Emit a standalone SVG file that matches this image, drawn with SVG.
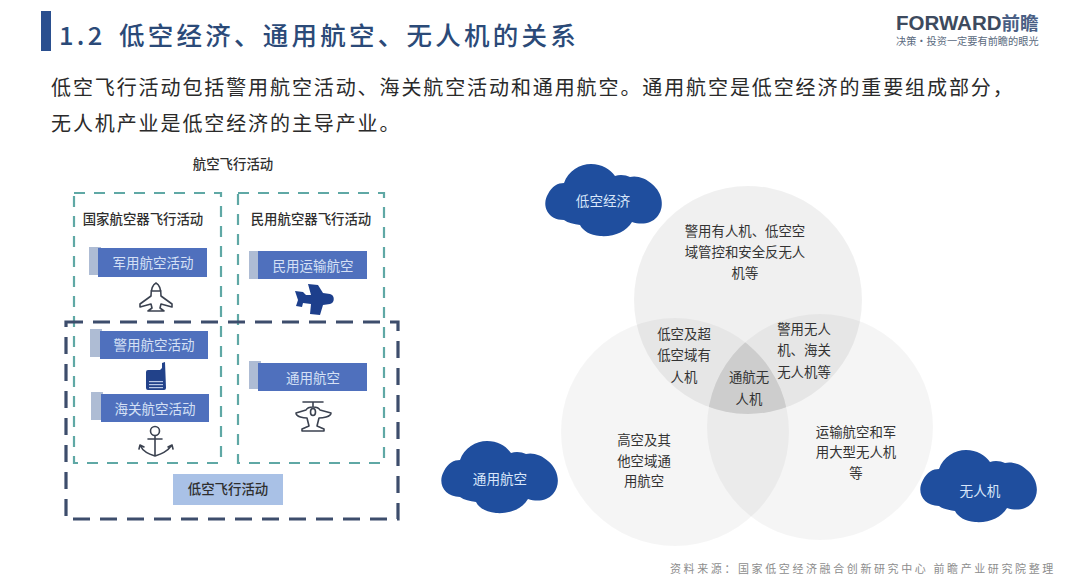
<svg xmlns="http://www.w3.org/2000/svg" width="1080" height="580" viewBox="0 0 1080 580">
<style>
text{font-family:"Noto Sans CJK SC","Noto Sans",sans-serif;text-anchor:middle}
.l{text-anchor:start}
.title{font-size:25.5px;font-weight:500;fill:#2b4a78;letter-spacing:3.25px}
.para{font-size:20px;fill:#2a2a2a;letter-spacing:1.9px}
.cap{font-size:13.4px;font-weight:500;fill:#2e2e2e}
.btn{fill:#4f70bd}
.tab{fill:#aebcd4}
.bt{font-size:13.5px;fill:#d5e0f5}
.teal{fill:none;stroke:#5fa8a5;stroke-width:2.2;stroke-dasharray:11 9}
.dark{fill:none;stroke:#3d4d6c;stroke-width:3.2;stroke-dasharray:17 10}
.vt{font-size:13.4px;fill:#333}
.cloud{fill:#1f4e9e}
.ct{font-size:13.6px;fill:#d8e6fa}
.ln{fill:none;stroke:#3b4250;stroke-width:1.6;stroke-linejoin:round;stroke-linecap:round}
</style>
<defs>
<path id="cl" d="M18 56C2 56-5 42 2 30C6 22 12 19 18 19C22 7 34 0 45 0C56 0 64 5 69 12C74 10 80 11 84 13C90 11 100 14 106 20C117 29 119 44 111 53C105 60 95 61 86 58C80 68 68 73 54 72C44 71 37 67 34 61C28 60 22 59 18 56Z"/>
<clipPath id="cL"><circle cx="675" cy="432" r="114"/></clipPath>
<clipPath id="cR"><circle cx="820" cy="427" r="113"/></clipPath>
</defs>

<g id="header">
<rect x="41" y="11" width="10" height="40" fill="#2a4f8f"/>
<text class="title l" x="59" y="45" letter-spacing="5">1.2</text>
<text class="title l" x="119" y="45">低空经济、通用航空、无人机的关系</text>
<text class="l" x="896" y="30" font-size="20.5" font-weight="700" fill="#3d4a5e" style="font-family:'Liberation Sans',sans-serif">FORWARD<tspan style="font-family:'Noto Sans CJK SC',sans-serif" fill="#4a5f85" font-size="18.5">前瞻</tspan></text>
<text class="l" x="896" y="45" font-size="10.2" fill="#5a6a80">决策·投资一定要有前瞻的眼光</text>
</g>

<g id="intro">
<text class="para l" x="51" y="95">低空飞行活动包括警用航空活动、海关航空活动和通用航空。通用航空是低空经济的重要组成部分，</text>
<text class="para l" x="51" y="131">无人机产业是低空经济的主导产业。</text>
</g>

<g id="activity-title"><text class="cap" x="233" y="169" font-weight="700">航空飞行活动</text></g>

<g id="state-aircraft">
<rect class="teal" x="74" y="193" width="147" height="270"/>
<text class="cap" x="143" y="224">国家航空器飞行活动</text>
</g>
<g id="civil-aircraft">
<rect class="teal" x="238" y="193" width="146" height="270"/>
<text class="cap" x="311" y="224">民用航空器飞行活动</text>
</g>
<g id="low-altitude">
<rect class="dark" x="66" y="322" width="332" height="197"/>
<rect x="173" y="474" width="110" height="31" fill="#a9c1e6"/>
<text class="cap" x="228" y="494" font-weight="700" fill="#2d3d5c">低空飞行活动</text>
</g>

<g id="military">
<rect class="tab" x="89" y="247" width="12" height="28"/><rect class="btn" x="98" y="248" width="109" height="29"/>
<text class="bt" x="153" y="268">军用航空活动</text>
<path class="ln" d="M156 283C152 285 151 290 151 296L140 304L140 307L151 304L152 308L148 311H164L160 308L161 304L172 307L172 304L161 296C161 290 160 285 156 283ZM151 291H161"/>
</g>
<g id="transport">
<rect class="tab" x="249" y="251" width="12" height="28"/><rect class="btn" x="258" y="251" width="109" height="28"/>
<text class="bt" x="313" y="271">民用运输航空</text>
<path d="M308 284L318 285L323 293L330 294C335 295 335 303 330 304L323 305L320 315L310 314L311 304L303 303L302 307L296 306L298 300L295 291L303 292L306 295L311 295Z" fill="#1d3f8c"/>
</g>
<g id="police">
<rect class="tab" x="90" y="329" width="12" height="28"/><rect class="btn" x="100" y="331" width="108" height="28"/>
<text class="bt" x="154" y="350">警用航空活动</text>
<path d="M148 370L160 370L162 368L162 363L165 362L166 388Q166 390 164 390L148 390Q146 390 146 388L146 372Q146 370 148 370Z" fill="#22428a"/>
<g fill="#b9c8e6"><rect x="149" y="381" width="14" height="1.2"/><rect x="149" y="384" width="14" height="1.2"/><rect x="149" y="387" width="14" height="1.2"/></g>
</g>
<g id="customs">
<rect class="tab" x="91" y="392" width="12" height="28"/><rect class="btn" x="101" y="394" width="108" height="28"/>
<text class="bt" x="155" y="414">海关航空活动</text>
<circle class="ln" cx="155" cy="431" r="4.5" stroke-width="2"/>
<path class="ln" d="M155 436V456M148 439H162M140 445C143 452 149 454 155 456C161 454 167 452 172 445M140 445L139 449M140 445L144 447M172 445L173 449M172 445L168 447" stroke-width="2"/>
</g>
<g id="general">
<rect class="tab" x="249" y="361" width="12" height="28"/><rect class="btn" x="258" y="363" width="109" height="28"/>
<text class="bt" x="313" y="383">通用航空</text>
<path class="ln" d="M303 402H323M313 402V407M296 413L306 410C308 406 318 406 320 410L331 413C331 417 322 418 319 418L317 426L324 429L324 431H302L302 429L309 426L307 418C304 418 296 417 296 413Z"/>
<ellipse class="ln" cx="313" cy="412" rx="2.5" ry="3.5"/>
</g>

<g id="venn">
<circle cx="748" cy="300" r="114" fill="#000" fill-opacity=".06"/>
<circle cx="675" cy="432" r="114" fill="#000" fill-opacity=".04"/>
<circle cx="820" cy="427" r="113" fill="#000" fill-opacity=".04"/>
<g clip-path="url(#cL)"><circle cx="748" cy="300" r="114" fill="#000" fill-opacity=".07" clip-path="url(#cR)"/></g>
</g>
<g id="venn-top"><text class="vt" x="745" y="236">警用有人机、低空空</text><text class="vt" x="745" y="257">域管控和安全反无人</text><text class="vt" x="745" y="278">机等</text></g>
<g id="venn-left-top"><text class="vt" x="684" y="339">低空及超</text><text class="vt" x="684" y="360">低空域有</text><text class="vt" x="684" y="382">人机</text></g>
<g id="venn-right-top"><text class="vt" x="804" y="334">警用无人</text><text class="vt" x="804" y="355">机、海关</text><text class="vt" x="804" y="377">无人机等</text></g>
<g id="venn-center"><text class="vt" x="749" y="382">通航无</text><text class="vt" x="749" y="404">人机</text></g>
<g id="venn-left"><text class="vt" x="644" y="445">高空及其</text><text class="vt" x="644" y="466">他空域通</text><text class="vt" x="644" y="486">用航空</text></g>
<g id="venn-right"><text class="vt" x="856" y="437">运输航空和军</text><text class="vt" x="856" y="457">用大型无人机</text><text class="vt" x="856" y="478">等</text></g>

<g id="cloud-economy"><use href="#cl" class="cloud" x="546" y="164"/><text class="ct" x="603" y="206">低空经济</text></g>
<g id="cloud-general"><use href="#cl" class="cloud" x="442" y="441"/><text class="ct" x="500" y="484">通用航空</text></g>
<g id="cloud-uav"><use href="#cl" class="cloud" x="921" y="450"/><text class="ct" x="980" y="496">无人机</text></g>

<g id="source"><text class="l" x="670" y="573" font-size="11" fill="#8d8d8d" letter-spacing="2.6">资料来源：国家低空经济融合创新研究中心 前瞻产业研究院整理</text></g>
</svg>
